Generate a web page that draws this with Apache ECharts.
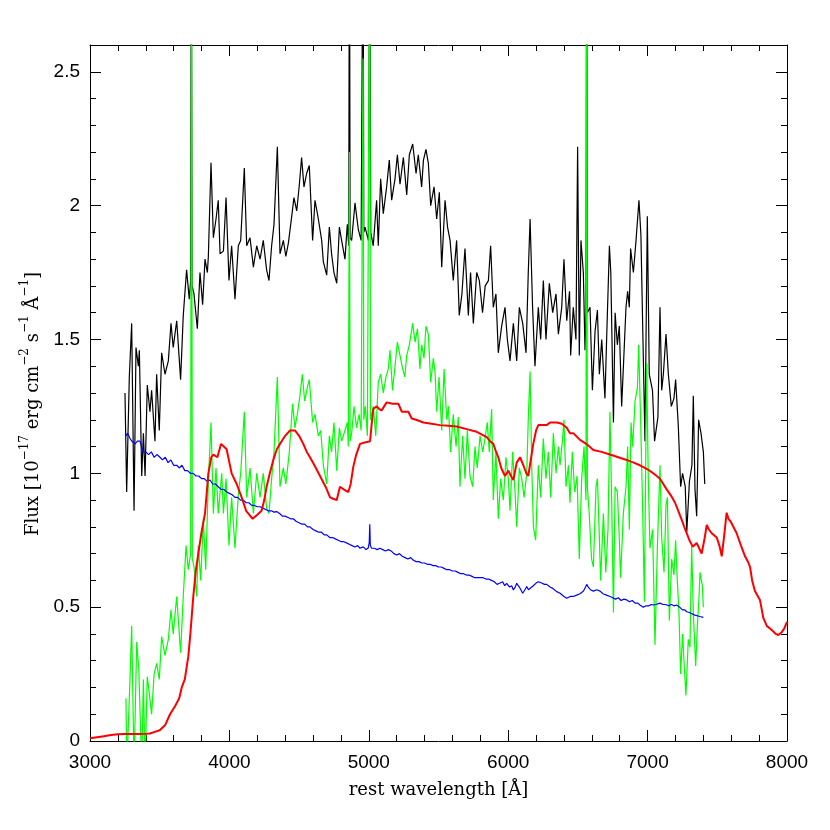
<!DOCTYPE html>
<html>
<head>
<meta charset="utf-8">
<script src="https://cdn.jsdelivr.net/npm/echarts@6/dist/echarts.min.js"></script>
<style>
  html, body { margin: 0; padding: 0; background: #fff; }
  #chart { width: 830px; height: 830px; }
</style>
</head>
<body>
<div id="chart"></div>
<script>
// observed spectrum [wavelength, flux]
var blackSpec = [
  [3251,1.30],[3263,0.93],[3282,1.36],[3299,1.56],[3316,0.86],[3330,1.47],[3347,1.40],[3354,1.46],[3371,0.99],[3383,1.15],
  [3395,0.99],[3411,1.33],[3430,1.23],[3442,1.31],[3466,1.12],[3478,1.37],[3497,1.16],[3514,1.45],[3538,1.37],[3562,1.42],
  [3581,1.56],[3597,1.47],[3622,1.57],[3650,1.35],[3669,1.59],[3693,1.76],[3712,1.65],[3722,1.72],[3727,3.2],[3732,1.70],
  [3746,1.67],[3770,1.54],[3789,1.75],[3808,1.63],[3825,1.80],[3842,1.75],[3849,1.81],[3868,2.16],[3885,1.88],[3904,1.95],
  [3920,2.02],[3933,1.82],[3957,1.83],[3976,2.03],[3997,1.72],[4016,1.85],[4040,1.65],[4064,1.85],[4081,1.87],[4107,2.14],
  [4124,1.85],[4148,1.88],[4172,1.77],[4196,1.85],[4220,1.80],[4243,1.87],[4267,1.76],[4284,1.72],[4303,1.85],[4320,1.93],
  [4344,2.22],[4363,1.82],[4387,1.87],[4405,1.81],[4423,1.86],[4447,1.96],[4463,2.03],[4483,1.98],[4502,2.08],[4518,2.18],
  [4535,2.07],[4554,2.12],[4573,2.15],[4597,1.87],[4614,2.02],[4638,1.95],[4662,1.87],[4674,1.79],[4698,1.74],[4717,1.92],
  [4733,1.82],[4750,1.75],[4770,1.71],[4789,1.92],[4805,1.87],[4829,1.80],[4846,1.93],[4856,1.85],[4861,3.2],[4866,1.88],
  [4877,1.87],[4901,2.01],[4925,1.91],[4945,1.87],[4959,3.2],[4964,1.90],[4973,1.92],[4997,1.87],[5007,3.2],[5014,1.90],
  [5032,1.85],[5056,2.02],[5068,1.85],[5085,2.10],[5104,1.97],[5128,2.07],[5147,2.17],[5164,2.02],[5188,2.10],[5205,2.19],
  [5224,2.08],[5248,2.18],[5272,2.04],[5291,2.19],[5315,2.23],[5339,2.12],[5355,2.19],[5379,2.07],[5392,2.17],[5410,2.21],
  [5427,2.16],[5444,2.00],[5468,2.07],[5487,1.95],[5506,2.05],[5523,1.77],[5547,2.02],[5565,1.92],[5583,1.87],[5606,1.72],
  [5630,1.87],[5649,1.59],[5668,1.67],[5690,1.84],[5714,1.59],[5730,1.75],[5750,1.56],[5774,1.75],[5793,1.72],[5816,1.60],
  [5835,1.70],[5858,1.72],[5874,1.85],[5893,1.62],[5912,1.67],[5929,1.45],[5953,1.55],[5977,1.62],[5994,1.50],[6013,1.42],
  [6037,1.56],[6061,1.42],[6080,1.62],[6104,1.56],[6128,1.45],[6144,1.75],[6157,1.95],[6175,1.62],[6192,1.40],[6216,1.62],
  [6233,1.50],[6252,1.72],[6271,1.50],[6295,1.71],[6319,1.60],[6343,1.67],[6360,1.52],[6384,1.62],[6400,1.80],[6420,1.57],
  [6440,1.68],[6448,1.44],[6467,1.62],[6486,1.50],[6498,2.22],[6510,1.44],[6522,1.87],[6539,1.75],[6551,1.46],[6558,1.60],
  [6563,3.2],[6568,1.60],[6587,1.62],[6604,1.31],[6623,1.53],[6640,1.61],[6654,1.37],[6671,1.50],[6694,1.28],[6706,1.50],
  [6726,1.85],[6736,1.75],[6755,1.19],[6767,1.60],[6783,1.48],[6797,1.55],[6814,1.25],[6845,1.62],[6857,1.68],[6869,1.62],
  [6878,1.84],[6898,1.75],[6917,1.87],[6938,2.02],[6952,1.89],[6969,1.44],[6981,1.12],[6998,1.96],[7012,1.37],[7035,1.31],
  [7050,1.12],[7074,1.21],[7089,1.62],[7101,1.31],[7113,1.37],[7132,1.52],[7149,1.37],[7170,1.25],[7189,1.28],[7201,1.35],
  [7220,1.18],[7237,0.95],[7251,1.00],[7270,0.95],[7281,0.78],[7300,0.97],[7318,1.03],[7328,1.29],[7340,0.94],[7352,0.84],
  [7366,1.20],[7383,1.15],[7400,1.08],[7410,0.96]
];

// host-subtracted spectrum
var greenSpec = [
  [3258,0.16],[3264,-0.1],[3287,0.23],[3299,0.43],[3316,-0.1],[3335,0.37],[3350,0.27],[3371,-0.1],[3383,0.23],[3395,-0.1],
  [3411,0.24],[3425,0.18],[3442,0.10],[3460,0.25],[3478,0.29],[3497,0.23],[3514,0.39],[3538,0.32],[3562,0.38],[3581,0.49],
  [3597,0.40],[3622,0.54],[3650,0.33],[3669,0.54],[3689,0.73],[3705,0.64],[3722,0.70],[3728,3.2],[3734,0.68],[3746,0.65],
  [3765,0.54],[3777,0.73],[3794,0.60],[3813,0.83],[3830,0.64],[3849,0.97],[3868,1.19],[3885,0.85],[3904,1.02],[3920,0.85],
  [3945,1.00],[3957,0.85],[3976,0.98],[3997,0.73],[4016,0.91],[4040,0.72],[4064,0.92],[4081,1.00],[4107,1.23],[4124,0.91],
  [4148,1.02],[4172,0.85],[4196,1.00],[4220,0.91],[4243,1.00],[4267,0.87],[4284,0.85],[4303,0.98],[4320,1.08],[4344,1.36],
  [4363,0.95],[4387,1.02],[4405,0.96],[4430,1.08],[4453,1.26],[4470,1.17],[4487,1.22],[4506,1.29],[4523,1.37],[4540,1.27],
  [4559,1.32],[4573,1.35],[4597,1.19],[4614,1.22],[4638,1.14],[4655,1.16],[4674,1.03],[4698,0.96],[4717,1.14],[4733,1.08],
  [4750,1.19],[4770,1.01],[4789,1.17],[4805,1.12],[4829,1.16],[4846,1.19],[4853,1.10],[4861,2.2],[4866,1.12],[4877,1.15],
  [4894,1.25],[4912,1.17],[4930,1.22],[4945,1.16],[4959,2.55],[4964,1.20],[4975,1.25],[4990,1.14],[5007,3.2],[5012,1.20],
  [5032,1.25],[5050,1.14],[5068,1.34],[5085,1.37],[5104,1.30],[5123,1.36],[5140,1.39],[5152,1.46],[5170,1.31],[5188,1.40],
  [5205,1.49],[5224,1.44],[5243,1.39],[5258,1.36],[5272,1.44],[5291,1.48],[5315,1.56],[5332,1.49],[5349,1.54],[5367,1.39],
  [5379,1.48],[5396,1.43],[5410,1.55],[5427,1.52],[5444,1.34],[5463,1.43],[5475,1.38],[5487,1.23],[5504,1.36],[5523,1.16],
  [5540,1.39],[5559,1.20],[5571,1.25],[5587,1.08],[5606,1.22],[5626,1.10],[5642,1.21],[5654,0.95],[5673,1.14],[5690,0.98],
  [5707,1.16],[5726,0.99],[5745,0.95],[5762,1.10],[5778,1.02],[5798,1.14],[5817,1.08],[5834,1.13],[5850,1.19],[5864,1.08],
  [5881,1.24],[5893,0.90],[5912,1.08],[5929,0.83],[5946,0.98],[5965,0.90],[5984,1.06],[6001,0.98],[6013,0.86],[6032,1.08],
  [6049,0.93],[6061,0.80],[6080,1.02],[6097,0.98],[6114,0.91],[6133,1.00],[6145,1.22],[6157,1.38],[6169,1.02],[6181,0.80],
  [6197,0.75],[6216,1.03],[6233,0.91],[6252,1.13],[6271,0.98],[6288,1.08],[6305,0.91],[6324,1.15],[6343,1.00],[6360,1.10],
  [6372,1.03],[6390,1.13],[6400,1.20],[6415,0.95],[6432,1.03],[6443,0.89],[6460,1.08],[6477,0.93],[6494,0.99],[6510,0.68],
  [6527,0.98],[6544,1.10],[6558,0.90],[6563,3.2],[6568,0.95],[6581,0.85],[6598,0.68],[6611,0.65],[6630,0.95],[6640,0.98],
  [6654,0.76],[6663,0.60],[6683,0.85],[6700,0.63],[6716,0.79],[6730,1.23],[6742,0.91],[6755,0.48],[6767,0.95],[6783,0.93],
  [6797,0.76],[6806,0.61],[6826,0.85],[6845,0.95],[6857,1.10],[6869,0.79],[6881,1.19],[6893,1.10],[6910,1.27],[6927,1.32],
  [6936,1.48],[6950,1.20],[6965,0.85],[6977,0.52],[6993,1.41],[7005,0.98],[7017,0.72],[7036,0.79],[7053,0.36],[7070,0.72],
  [7089,1.03],[7101,0.76],[7118,0.63],[7132,0.88],[7142,0.91],[7156,0.45],[7173,0.68],[7189,0.62],[7201,0.75],[7213,0.60],
  [7225,0.48],[7237,0.25],[7251,0.40],[7261,0.30],[7275,0.17],[7292,0.38],[7304,0.35],[7316,0.73],[7328,0.48],[7345,0.28],
  [7357,0.43],[7369,0.54],[7376,0.63],[7393,0.58],[7400,0.50]
];

// host galaxy / continuum template
var blueSpec = [
  [3258,1.14],[3270,1.15],[3287,1.13],[3300,1.12],[3323,1.11],[3340,1.12],[3359,1.12],[3375,1.09],[3382,1.08],[3400,1.08],
  [3420,1.07],[3440,1.08],[3460,1.06],[3480,1.07],[3502,1.06],[3520,1.05],[3540,1.06],[3560,1.04],[3580,1.05],[3600,1.03],
  [3622,1.03],[3640,1.02],[3660,1.03],[3680,1.01],[3700,1.01],[3720,1.00],[3741,1.00],[3760,0.99],[3780,0.99],[3800,0.98],
  [3820,0.98],[3840,0.97],[3861,0.975],[3880,0.96],[3900,0.96],[3920,0.95],[3940,0.94],[3960,0.94],[3981,0.93],[4000,0.925],
  [4020,0.92],[4040,0.91],[4060,0.91],[4080,0.90],[4100,0.90],[4120,0.89],[4140,0.89],[4160,0.88],[4180,0.88],[4200,0.875],
  [4220,0.875],[4240,0.87],[4260,0.865],[4280,0.86],[4300,0.86],[4320,0.855],[4339,0.857],[4360,0.85],[4380,0.84],[4400,0.84],
  [4420,0.835],[4440,0.83],[4459,0.83],[4480,0.82],[4500,0.815],[4520,0.81],[4540,0.81],[4560,0.80],[4578,0.80],[4600,0.79],
  [4620,0.785],[4640,0.78],[4660,0.78],[4680,0.77],[4698,0.77],[4720,0.76],[4740,0.76],[4760,0.755],[4780,0.75],[4800,0.745],
  [4817,0.745],[4840,0.74],[4860,0.735],[4880,0.73],[4900,0.725],[4920,0.73],[4937,0.72],[4960,0.725],[4980,0.715],[4995,0.72],
  [5003,0.74],[5007,0.81],[5011,0.73],[5020,0.72],[5040,0.72],[5060,0.715],[5080,0.72],[5100,0.715],[5120,0.71],[5140,0.715],
  [5160,0.71],[5180,0.70],[5200,0.695],[5220,0.70],[5240,0.69],[5260,0.685],[5280,0.68],[5300,0.685],[5320,0.675],[5340,0.67],
  [5360,0.67],[5380,0.665],[5400,0.665],[5420,0.66],[5440,0.66],[5460,0.655],[5480,0.655],[5500,0.65],[5520,0.65],[5540,0.645],
  [5560,0.64],[5580,0.64],[5600,0.635],[5620,0.635],[5640,0.63],[5660,0.625],[5680,0.625],[5700,0.62],[5720,0.62],[5740,0.615],
  [5760,0.61],[5780,0.61],[5800,0.61],[5820,0.61],[5840,0.605],[5860,0.605],[5880,0.60],[5900,0.595],[5920,0.585],[5941,0.59],
  [5960,0.595],[5975,0.58],[5989,0.589],[6010,0.575],[6025,0.58],[6037,0.564],[6050,0.575],[6061,0.589],[6080,0.575],[6104,0.552],
  [6120,0.565],[6133,0.577],[6145,0.565],[6157,0.56],[6180,0.58],[6200,0.59],[6216,0.595],[6240,0.59],[6260,0.585],[6276,0.585],
  [6300,0.575],[6320,0.57],[6348,0.558],[6372,0.552],[6400,0.54],[6420,0.533],[6445,0.54],[6467,0.54],[6491,0.545],[6515,0.55],
  [6540,0.56],[6555,0.575],[6563,0.585],[6575,0.575],[6590,0.565],[6611,0.56],[6635,0.565],[6659,0.56],[6680,0.55],[6705,0.545],
  [6730,0.54],[6750,0.535],[6770,0.53],[6790,0.535],[6810,0.525],[6830,0.53],[6850,0.527],[6870,0.52],[6890,0.525],[6910,0.515],
  [6930,0.515],[6945,0.508],[6969,0.50],[6990,0.505],[7010,0.505],[7025,0.51],[7041,0.508],[7060,0.51],[7089,0.515],[7110,0.51],
  [7130,0.51],[7150,0.505],[7170,0.51],[7190,0.505],[7209,0.508],[7230,0.50],[7250,0.49],[7265,0.49],[7281,0.483],[7300,0.48],
  [7320,0.475],[7340,0.47],[7352,0.467],[7375,0.465],[7400,0.462]
];

// supernova template
var redSpec = [
  [3000,0.01],[3050,0.014],[3100,0.018],[3150,0.022],[3200,0.025],[3250,0.026],[3300,0.026],[3350,0.026],[3400,0.027],[3430,0.028],
  [3470,0.035],[3500,0.04],[3540,0.06],[3574,0.10],[3610,0.13],[3640,0.16],[3658,0.20],[3680,0.23],[3705,0.315],[3720,0.40],
  [3741,0.54],[3760,0.64],[3777,0.70],[3800,0.78],[3825,0.85],[3849,1.00],[3870,1.06],[3885,1.07],[3914,1.06],[3940,1.11],
  [3960,1.10],[3980,1.09],[4000,1.04],[4016,1.00],[4052,0.96],[4088,0.91],[4120,0.86],[4167,0.83],[4200,0.845],[4231,0.86],
  [4250,0.90],[4267,0.95],[4290,1.00],[4315,1.05],[4340,1.09],[4363,1.11],[4400,1.14],[4435,1.16],[4470,1.16],[4500,1.14],
  [4530,1.11],[4555,1.08],[4578,1.06],[4610,1.03],[4650,0.99],[4690,0.95],[4722,0.91],[4745,0.905],[4770,0.90],[4793,0.95],
  [4820,0.94],[4853,0.93],[4870,0.96],[4889,1.025],[4910,1.07],[4937,1.11],[4970,1.115],[5009,1.12],[5020,1.18],[5032,1.24],
  [5056,1.25],[5075,1.24],[5092,1.235],[5110,1.25],[5128,1.265],[5170,1.26],[5212,1.26],[5236,1.23],[5284,1.23],[5308,1.205],
  [5340,1.20],[5391,1.19],[5450,1.185],[5511,1.18],[5570,1.178],[5630,1.175],[5702,1.165],[5774,1.155],[5846,1.135],[5870,1.12],
  [5893,1.11],[5910,1.085],[5929,1.06],[5950,1.02],[5977,0.99],[6001,1.01],[6020,0.99],[6037,0.975],[6061,1.04],[6085,1.06],
  [6109,1.03],[6130,1.00],[6144,0.99],[6165,1.06],[6180,1.11],[6200,1.16],[6216,1.18],[6250,1.18],[6276,1.18],[6300,1.19],
  [6324,1.19],[6350,1.19],[6384,1.185],[6420,1.17],[6443,1.15],[6467,1.15],[6515,1.125],[6560,1.11],[6611,1.087],[6670,1.08],
  [6730,1.07],[6790,1.06],[6850,1.05],[6900,1.04],[6945,1.03],[7000,1.015],[7041,1.00],[7089,0.98],[7137,0.94],[7170,0.915],
  [7197,0.89],[7220,0.86],[7245,0.826],[7263,0.80],[7281,0.776],[7300,0.75],[7324,0.726],[7352,0.74],[7370,0.72],[7388,0.70],
  [7410,0.76],[7424,0.807],[7440,0.79],[7460,0.776],[7496,0.76],[7515,0.73],[7532,0.69],[7550,0.77],[7567,0.853],[7580,0.83],
  [7596,0.82],[7639,0.776],[7670,0.73],[7699,0.69],[7720,0.67],[7735,0.65],[7750,0.60],[7770,0.56],[7806,0.527],[7830,0.46],
  [7855,0.43],[7878,0.42],[7900,0.41],[7920,0.40],[7938,0.396],[7960,0.405],[7980,0.42],[8000,0.445]
];

var xTitle = 'rest wavelength [Å]';
// superscripts as rich text fragments
var yTitle = '{n|Flux [10}{s|−17}{n| erg cm}{s|−2}{n| s}{s|−1}{n| Å}{s|−1}{n|]}';

var chart = echarts.init(document.getElementById('chart'));

var serif = 'DejaVu Serif, serif';
var labelFont = { color: '#000', fontSize: 19, fontFamily: 'Liberation Sans, Arial, sans-serif' };
var titleFont = { color: '#000', fontSize: 18, fontFamily: serif };
var frame = { show: true, onZero: false, lineStyle: { color: '#000', width: 1 } };

function xAx(pos, showLabel) {
    return {
        type: 'value', position: pos, min: 3000, max: 8000, interval: 1000,
        axisLine: frame,
        axisTick: { inside: true, length: 11, lineStyle: { color: '#000' } },
        minorTick: { show: true, splitNumber: 5, length: 6, lineStyle: { color: '#000' } },
        axisLabel: Object.assign({ show: showLabel, margin: 12, formatter: function (v) { return String(v); } }, labelFont),
        splitLine: { show: false },
        minorSplitLine: { show: false },
        name: showLabel ? xTitle : '',
        nameLocation: 'middle',
        nameGap: 40,
        nameTextStyle: titleFont
    };
}

function yMajor(pos, showLabel) {
    return {
        type: 'value', position: pos, min: 0, max: 2.6, interval: 0.5,
        axisLine: frame,
        axisTick: { inside: true, length: 11, lineStyle: { color: '#000' } },
        axisLabel: Object.assign({
            show: showLabel, margin: 10, showMaxLabel: false,
            formatter: function (v) { return String(v); }
        }, labelFont),
        splitLine: { show: false },
        name: showLabel ? yTitle : '',
        nameLocation: 'middle',
        nameRotate: 90,
        nameGap: 46,
        nameTextStyle: {
            padding: [0, 22, 0, 0],
            rich: {
                n: { color: '#000', fontSize: 18, fontFamily: serif, lineHeight: 24, verticalAlign: 'bottom' },
                s: { color: '#000', fontSize: 12, fontFamily: serif, lineHeight: 14, verticalAlign: 'top' }
            }
        }
    };
}

function yMinor(pos) {
    return {
        type: 'value', position: pos, min: 0, max: 2.6, interval: 0.1,
        axisLine: { show: false },
        axisTick: { inside: true, length: 6, lineStyle: { color: '#000' } },
        axisLabel: { show: false },
        splitLine: { show: false }
    };
}

function spec(data, color, width) {
    return {
        type: 'line', data: data, xAxisIndex: 0, yAxisIndex: 0,
        showSymbol: false, symbol: 'none', clip: true,
        lineStyle: { color: color, width: width },
        silent: true
    };
}

var option = {
    animation: false,
    backgroundColor: '#fff',
    grid: { left: 90, right: 43, top: 45, bottom: 89, containLabel: false },
    xAxis: [xAx('bottom', true), xAx('top', false)],
    yAxis: [yMajor('left', true), yMajor('right', false), yMinor('left'), yMinor('right')],
    series: [
        spec(blackSpec, '#000000', 1.2),
        spec(greenSpec, '#00ff00', 1.2),
        spec(blueSpec, '#0000ff', 1.2),
        spec(redSpec, '#ff0000', 2)
    ]
};

chart.setOption(option);
</script>
</body>
</html>
